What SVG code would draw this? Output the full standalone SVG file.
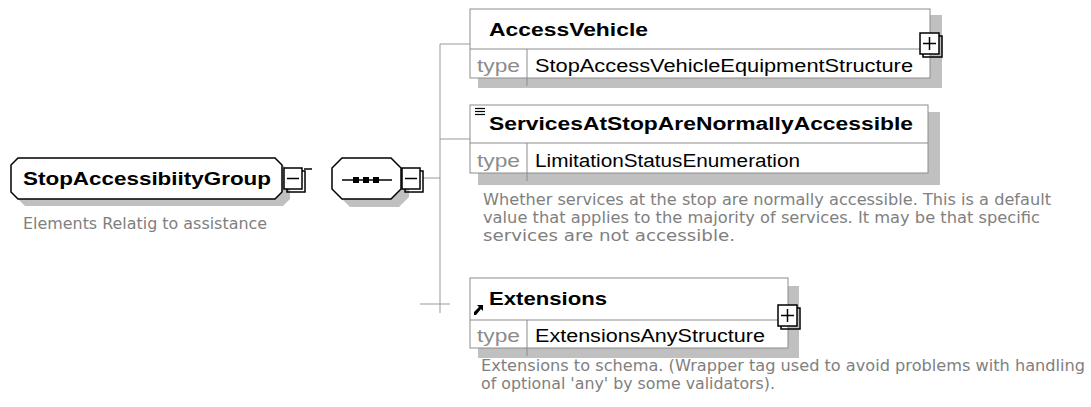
<svg xmlns="http://www.w3.org/2000/svg" width="1091" height="407" viewBox="0 0 1091 407">
<style>
.bg{fill:#ffffff}
.shadow{fill:#c0c0c0}
.box{fill:#ffffff;stroke:#8c8c8c;stroke-width:1}
.div{stroke:#8c8c8c;stroke-width:1}
.conn{stroke:#999999;stroke-width:1;fill:none}
.blk{fill:#ffffff;stroke:#000000;stroke-width:1.5}
.hdr{font-family:"Liberation Sans",Arial,sans-serif;font-weight:bold;font-size:18px;fill:#000000}
.typ{font-family:"Liberation Sans",Arial,sans-serif;font-size:18px;fill:#000000}
.tlab{font-family:"Liberation Sans",Arial,sans-serif;font-size:18px;fill:#8c8c8c}
.desc{font-family:"DejaVu Sans","Liberation Sans",sans-serif;font-size:15px;fill:#808080}
</style>
<defs>
<g id="plus">
<rect x="3" y="3" width="19" height="21" fill="none" stroke="#000" stroke-width="1.5"/>
<rect x="0" y="0" width="19" height="21" fill="#ffffff" stroke="#000" stroke-width="1.5"/>
<line x1="3" y1="10.5" x2="16" y2="10.5" stroke="#000" stroke-width="1.5"/>
<line x1="9.5" y1="4" x2="9.5" y2="17" stroke="#000" stroke-width="1.5"/>
</g>
<g id="minus">
<rect x="3" y="3" width="18" height="21" fill="none" stroke="#000" stroke-width="1.5"/>
<rect x="0" y="0" width="18" height="21" fill="#ffffff" stroke="#000" stroke-width="1.5"/>
<line x1="3" y1="10.5" x2="15" y2="10.5" stroke="#000" stroke-width="1.5"/>
</g>
</defs>
<rect class="bg" x="0" y="0" width="1091" height="407"/>

<g id="connectors">
<line x1="304" y1="169" x2="312" y2="169" stroke="#000" stroke-width="1.5"/>
<line class="conn" x1="423" y1="178" x2="440" y2="178"/>
<line class="conn" x1="440" y1="44" x2="440" y2="313"/>
<line class="conn" x1="440" y1="44" x2="470" y2="44"/>
<line class="conn" x1="440" y1="139" x2="470" y2="139"/>
<line class="conn" x1="420" y1="304" x2="450" y2="304"/>
</g>

<g id="StopAccessibiityGroup">
<polygon class="shadow" points="25,165 283,165 290,172 290,199 283,206 25,206 18,199 18,172"/>
<polygon class="blk" points="18,158 275,158 282,165 282,192 275,199 18,199 11,192 11,165"/>
<text class="hdr" x="23" y="185" font-size="19" textLength="248" lengthAdjust="spacingAndGlyphs">StopAccessibiityGroup</text>
<use href="#minus" x="284" y="168"/>
<text class="desc" x="23" y="229" textLength="244" lengthAdjust="spacingAndGlyphs">Elements Relatig to assistance</text>
</g>

<g id="sequence">
<polygon class="shadow" points="350,166 399,166 409,176 409,197 399,207 350,207 340,197 340,176"/>
<polygon class="blk" points="342,158 391,158 401,168 401,189 391,199 342,199 332,189 332,168"/>
<line x1="342" y1="180" x2="392" y2="180" stroke="#000" stroke-width="1.5"/>
<rect x="353" y="177" width="6" height="6" fill="#000"/>
<rect x="363" y="177" width="6" height="6" fill="#000"/>
<rect x="373" y="177" width="6" height="6" fill="#000"/>
<use href="#minus" x="402" y="168"/>
</g>

<g id="AccessVehicle">
<rect class="shadow" x="478" y="15" width="464" height="73"/>
<rect class="box" x="470" y="9" width="460" height="69"/>
<line class="div" x1="470" y1="49" x2="930" y2="49"/>
<line class="div" x1="527" y1="49" x2="527" y2="86"/>
<text class="hdr" x="489" y="36" textLength="159" lengthAdjust="spacingAndGlyphs">AccessVehicle</text>
<text class="tlab" x="477" y="72" textLength="43" lengthAdjust="spacingAndGlyphs">type</text>
<text class="typ" x="535" y="72" textLength="378" lengthAdjust="spacingAndGlyphs">StopAccessVehicleEquipmentStructure</text>
<use href="#plus" x="920" y="33"/>
</g>

<g id="ServicesAtStopAreNormallyAccessible">
<rect class="shadow" x="478" y="112" width="462" height="73"/>
<rect class="box" x="470" y="105" width="458" height="68"/>
<line class="div" x1="470" y1="143" x2="928" y2="143"/>
<line class="div" x1="527" y1="143" x2="527" y2="181"/>
<line x1="475" y1="108.5" x2="485" y2="108.5" stroke="#000" stroke-width="1.2"/>
<line x1="475" y1="111.5" x2="485" y2="111.5" stroke="#000" stroke-width="1.2"/>
<line x1="475" y1="114.5" x2="485" y2="114.5" stroke="#000" stroke-width="1.2"/>
<text class="hdr" x="489" y="130" textLength="424" lengthAdjust="spacingAndGlyphs">ServicesAtStopAreNormallyAccessible</text>
<text class="tlab" x="477" y="167" textLength="43" lengthAdjust="spacingAndGlyphs">type</text>
<text class="typ" x="535" y="167" textLength="265" lengthAdjust="spacingAndGlyphs">LimitationStatusEnumeration</text>
<text class="desc" x="483" y="205" textLength="568" lengthAdjust="spacingAndGlyphs">Whether services at the stop are normally accessible. This is a default</text>
<text class="desc" x="483" y="223" textLength="557" lengthAdjust="spacingAndGlyphs">value that applies to the majority of services. It may be that specific</text>
<text class="desc" x="483" y="241" textLength="252" lengthAdjust="spacingAndGlyphs">services are not accessible.</text>
</g>

<g id="Extensions">
<rect class="shadow" x="478" y="286" width="321" height="72"/>
<rect class="box" x="470" y="278" width="318" height="70"/>
<line class="div" x1="470" y1="320" x2="788" y2="320"/>
<line class="div" x1="527" y1="320" x2="527" y2="356"/>
<polygon points="474,315 474,312 479,307 477,305 483,305 483,311 481,309 476,315" fill="#000"/>
<text class="hdr" x="489" y="305" textLength="118" lengthAdjust="spacingAndGlyphs">Extensions</text>
<text class="tlab" x="477" y="342" textLength="43" lengthAdjust="spacingAndGlyphs">type</text>
<text class="typ" x="535" y="342" textLength="230" lengthAdjust="spacingAndGlyphs">ExtensionsAnyStructure</text>
<use href="#plus" x="778" y="305"/>
<text class="desc" x="481" y="371" textLength="604" lengthAdjust="spacingAndGlyphs">Extensions to schema. (Wrapper tag used to avoid problems with handling</text>
<text class="desc" x="481" y="389" textLength="294" lengthAdjust="spacingAndGlyphs">of optional 'any' by some validators).</text>
</g>
</svg>
